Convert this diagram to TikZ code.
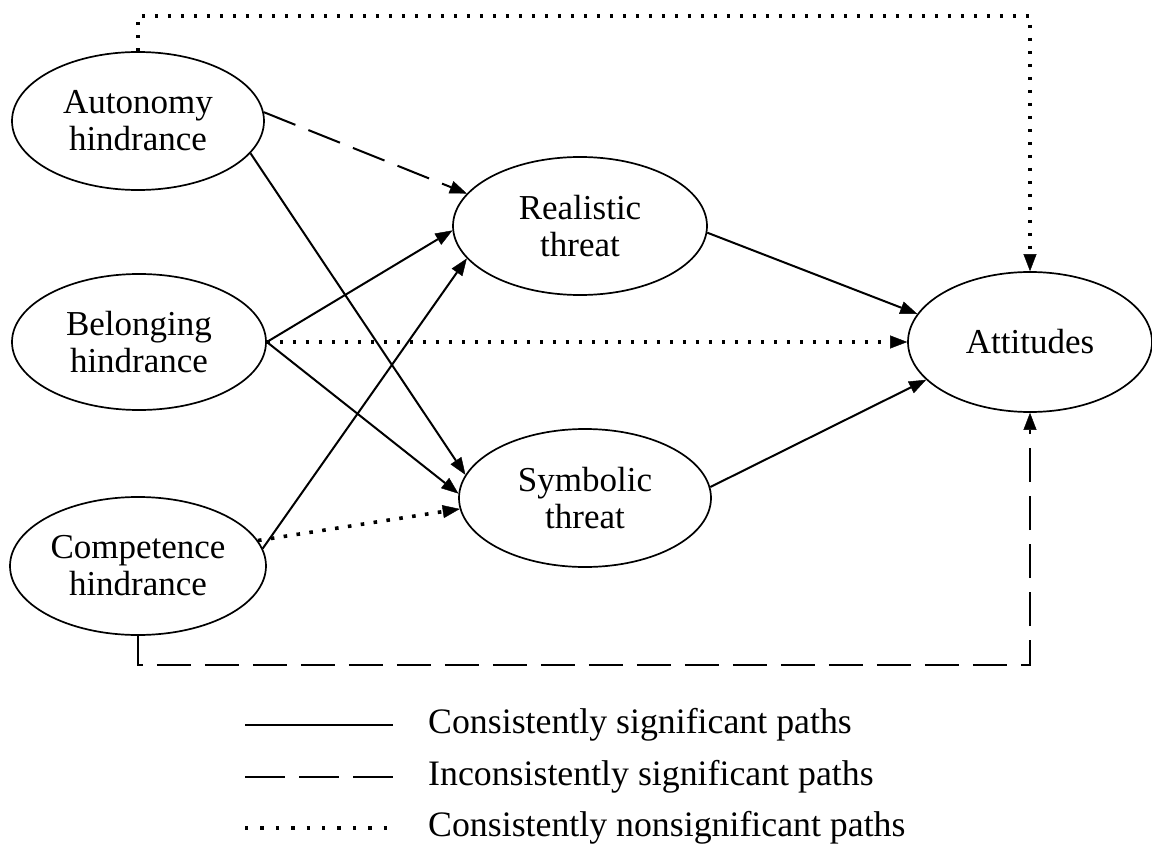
\documentclass[tikz,border=0pt]{standalone}
\usepackage{fontspec}
\setmainfont{Liberation Serif}
\usetikzlibrary{shapes.geometric,arrows.meta}
\begin{document}
\begin{tikzpicture}[x=1pt,y=1pt,
  lat/.style={ellipse,draw,line width=1.7pt,inner sep=0pt,align=center,
    font=\fontsize{35}{37}\selectfont},
  tip/.style={-{Triangle[length=17pt,width=13pt,line width=0.4pt]}},
  solidpath/.style={line width=2pt},
  dashpath/.style={line width=2pt,dash pattern=on 34pt off 14pt},
  dotpath/.style={line width=3.6pt,dash pattern=on 3.6pt off 9.4pt},
  legtext/.style={anchor=west,inner sep=0pt,font=\fontsize{35.8}{40}\selectfont}]
\useasboundingbox (0,0) rectangle (1152,-848);
% latent variables
\node[lat,minimum width=252pt,minimum height=138pt] (auto) at (138,-121) {Autonomy\\hindrance};
\node[lat,minimum width=254pt,minimum height=136pt] (bel) at (139,-342) {Belonging\\hindrance};
\node[lat,minimum width=256pt,minimum height=138pt] (comp) at (138,-566) {Competence\\hindrance};
\node[lat,minimum width=254pt,minimum height=138pt] (real) at (580,-226) {Realistic\\threat};
\node[lat,minimum width=252pt,minimum height=138pt] (sym) at (585,-498) {Symbolic\\threat};
\node[lat,minimum width=244pt,minimum height=140pt] (att) at (1030,-342) {Attitudes};
% corner coordinates
\coordinate (tl) at (138,-16);
\coordinate (tr) at (1030,-16);
\coordinate (bl) at (138,-665);
\coordinate (br) at (1030,-665);
% paths
\draw[dotpath,tip] (auto.north) -- (tl) -- (tr) -- (att.north);
\draw[dashpath,tip] (auto.4) -- (real.164);
\draw[solidpath,tip] (auto.-16) -- (sym.169);
\draw[solidpath,tip] (bel.0) -- (real.182);
\draw[solidpath,tip] (bel.0) -- (sym.178);
\draw[dotpath,tip] (bel.0) -- (att.180);
\draw[solidpath,tip] (comp.8) -- (real.196);
\draw[dotpath,tip] (comp.12) -- (sym.185);
\draw[solidpath,tip] (real.-3) -- (att.166);
\draw[solidpath,tip] (sym.5) -- (att.200);
\draw[dashpath,tip] (comp.south) -- (bl) -- (br) -- (att.south);
% legend
\coordinate (l1a) at (245,-725); \coordinate (l1b) at (393,-725);
\coordinate (l2a) at (245,-777); \coordinate (l2b) at (393,-777);
\coordinate (l3a) at (245,-828); \coordinate (l3b) at (393,-828);
\draw[solidpath] (l1a) -- (l1b);
\draw[line width=2pt,dash pattern=on 40pt off 14pt] (l2a) -- (l2b);
\draw[line width=3.4pt,dash pattern=on 3.4pt off 12pt] (l3a) -- (l3b);
\node[legtext] (t1) at (428,-725) {Consistently significant paths};
\node[legtext] (t2) at (428,-777) {Inconsistently significant paths};
\node[legtext] (t3) at (428,-828) {Consistently nonsignificant paths};
\end{tikzpicture}
\end{document}
